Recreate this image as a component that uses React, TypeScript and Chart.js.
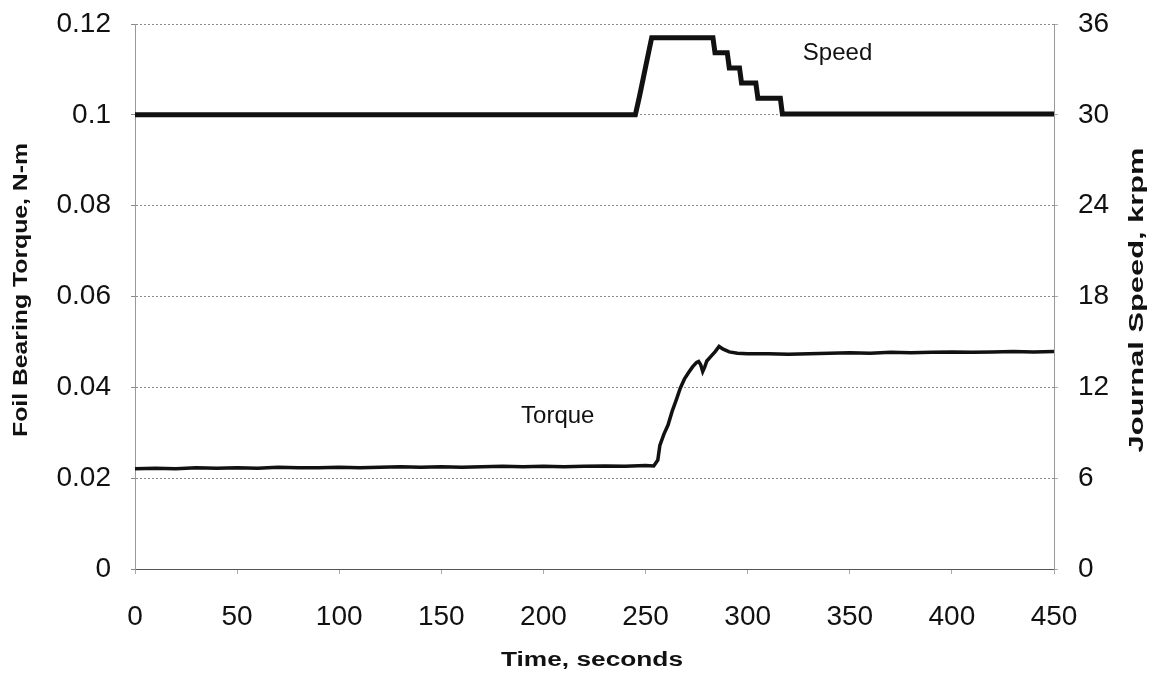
import { useEffect, useRef } from "react";
import { Chart, registerables } from "chart.js";

Chart.register(...registerables);

// Time axis ticks (seconds)
const xTicks = [0, 50, 100, 150, 200, 250, 300, 350, 400, 450];
// Left axis ticks (N-m)
const torqueTicks = [0, 0.02, 0.04, 0.06, 0.08, 0.1, 0.12];
// Right axis ticks (krpm)
const speedTicks = [0, 6, 12, 18, 24, 30, 36];

// Journal speed series
const speedTime = [0, 245, 247, 249, 251, 253, 283, 284, 290, 291, 296, 297, 304, 305, 316, 317, 450];
const speedKrpm = [30, 30, 31.2, 32.5, 33.8, 35.1, 35.1, 34.1, 34.1, 33.1, 33.1, 32.1, 32.1, 31.1, 31.1, 30.05, 30.05];

// Foil bearing torque series
const torqueTime = [
  0, 10, 20, 30, 40, 50, 60, 70, 80, 90, 100, 110, 120, 130, 140, 150, 160, 170, 180, 190,
  200, 210, 220, 230, 240, 250, 254, 256, 257, 259, 261, 263, 265, 267, 269, 271, 273, 275,
  276, 277, 278, 279, 280, 282, 284, 286, 288, 291, 295, 300, 310, 320, 330, 340, 350, 360,
  370, 380, 390, 400, 410, 420, 430, 440, 450,
];
const torqueNm = [
  0.0221, 0.0222, 0.0221, 0.0223, 0.0222, 0.0223, 0.0222, 0.0224, 0.0223, 0.0223, 0.0224,
  0.0223, 0.0224, 0.0225, 0.0224, 0.0225, 0.0224, 0.0225, 0.0226, 0.0225, 0.0226, 0.0225,
  0.0226, 0.0227, 0.0226, 0.0228, 0.0227, 0.024, 0.0272, 0.0297, 0.0317, 0.0347, 0.0372,
  0.0398, 0.0418, 0.0432, 0.0445, 0.0455, 0.0457, 0.045, 0.0435, 0.0445, 0.0458, 0.0468,
  0.0478, 0.049, 0.0484, 0.0478, 0.0475, 0.0474, 0.0474, 0.0473, 0.0474, 0.0475, 0.0476,
  0.0475, 0.0477, 0.0476, 0.0477, 0.0478, 0.0477, 0.0478, 0.0479, 0.0478, 0.0479,
];

const FONT = "'Liberation Sans', Arial, Helvetica, sans-serif";

export default function App() {
  const ref = useRef<HTMLCanvasElement | null>(null);

  useEffect(() => {
    if (!ref.current) return;

    const textPlugin = {
      id: "customText",
      afterDraw(chart: any) {
        const ctx = chart.ctx as CanvasRenderingContext2D;
        const xs = chart.scales.x;
        const ys = chart.scales.y;
        ctx.save();
        ctx.fillStyle = "#111";
        ctx.textAlign = "center";
        ctx.textBaseline = "middle";

        // annotations
        ctx.font = `24px ${FONT}`;
        ctx.fillText("Speed", xs.getPixelForValue(344), ys.getPixelForValue(0.1136));
        ctx.fillText("Torque", xs.getPixelForValue(207), ys.getPixelForValue(0.0335));

        const drawStretched = (text: string, cx: number, cy: number, rot: number, len: number, size: number) => {
          ctx.save();
          ctx.translate(cx, cy);
          ctx.rotate(rot);
          ctx.font = `bold ${size}px ${FONT}`;
          const w = ctx.measureText(text).width;
          ctx.scale(len / w, 1);
          ctx.fillText(text, 0, 0);
          ctx.restore();
        };
        drawStretched("Foil Bearing Torque, N-m", 21, 290, -Math.PI / 2, 294, 20);
        drawStretched("Journal Speed, krpm", 1137, 300, -Math.PI / 2, 305, 20);
        drawStretched("Time, seconds", 592, 660, 0, 182, 20);
        ctx.restore();
      },
    };

    const vFit = (w: number) => (s: any) => {
      s.width = w;
      s.paddingTop = 0;
      s.paddingBottom = 0;
    };

    const chart = new Chart(ref.current, {
      type: "line",
      data: {
        datasets: [
          {
            label: "Speed",
            data: speedTime.map((t, i) => ({ x: t, y: speedKrpm[i] })),
            yAxisID: "y1",
            borderColor: "#111",
            borderWidth: 5,
            pointRadius: 0,
            tension: 0,
            fill: false,
          },
          {
            label: "Torque",
            data: torqueTime.map((t, i) => ({ x: t, y: torqueNm[i] })),
            yAxisID: "y",
            borderColor: "#111",
            borderWidth: 3.5,
            pointRadius: 0,
            tension: 0,
            fill: false,
          },
        ],
      },
      options: {
        responsive: false,
        animation: false,
        events: [],
        layout: { padding: { top: 24, left: 0, right: 0, bottom: 0 } },
        plugins: {
          legend: { display: false },
          tooltip: { enabled: false },
          title: { display: false },
        },
        scales: {
          x: {
            type: "linear",
            min: 0,
            max: 450,
            afterBuildTicks: (s: any) => {
              s.ticks = xTicks.map((v) => ({ value: v }));
            },
            afterFit: (s: any) => {
              s.height = 112;
              s.paddingLeft = 0;
              s.paddingRight = 0;
            },
            ticks: {
              autoSkip: false,
              maxRotation: 0,
              padding: 26,
              color: "#111",
              font: { family: FONT, size: 28 },
            },
            grid: { drawOnChartArea: false, drawTicks: true, tickLength: 5, color: "#aaa" },
            border: { color: "#555", width: 1 },
          },
          y: {
            type: "linear",
            position: "left",
            min: 0,
            max: 0.12,
            afterBuildTicks: (s: any) => {
              s.ticks = torqueTicks.map((v) => ({ value: v }));
            },
            afterFit: vFit(135),
            ticks: {
              padding: 20,
              color: "#111",
              font: { family: FONT, size: 28 },
              callback: (v: any) => String(Math.round(Number(v) * 100) / 100),
            },
            grid: { color: "#8a8a8a", lineWidth: 1, tickLength: 4 },
            border: { color: "#999", width: 1, dash: [2, 2] },
          },
          y1: {
            type: "linear",
            position: "right",
            min: 0,
            max: 36,
            afterBuildTicks: (s: any) => {
              s.ticks = speedTicks.map((v) => ({ value: v }));
            },
            afterFit: vFit(105),
            ticks: {
              padding: 20,
              color: "#111",
              font: { family: FONT, size: 28 },
            },
            grid: { drawOnChartArea: false, tickLength: 4, color: "#aaa" },
            border: { color: "#999", width: 1 },
          },
        },
      },
      plugins: [textPlugin],
    } as any);

    return () => chart.destroy();
  }, []);

  return (
    <div style={{ position: "absolute", left: 0, top: 0, width: 1159, height: 681, background: "#fff" }}>
      <canvas ref={ref} width={1159} height={681} style={{ display: "block", width: 1159, height: 681 }} />
    </div>
  );
}
